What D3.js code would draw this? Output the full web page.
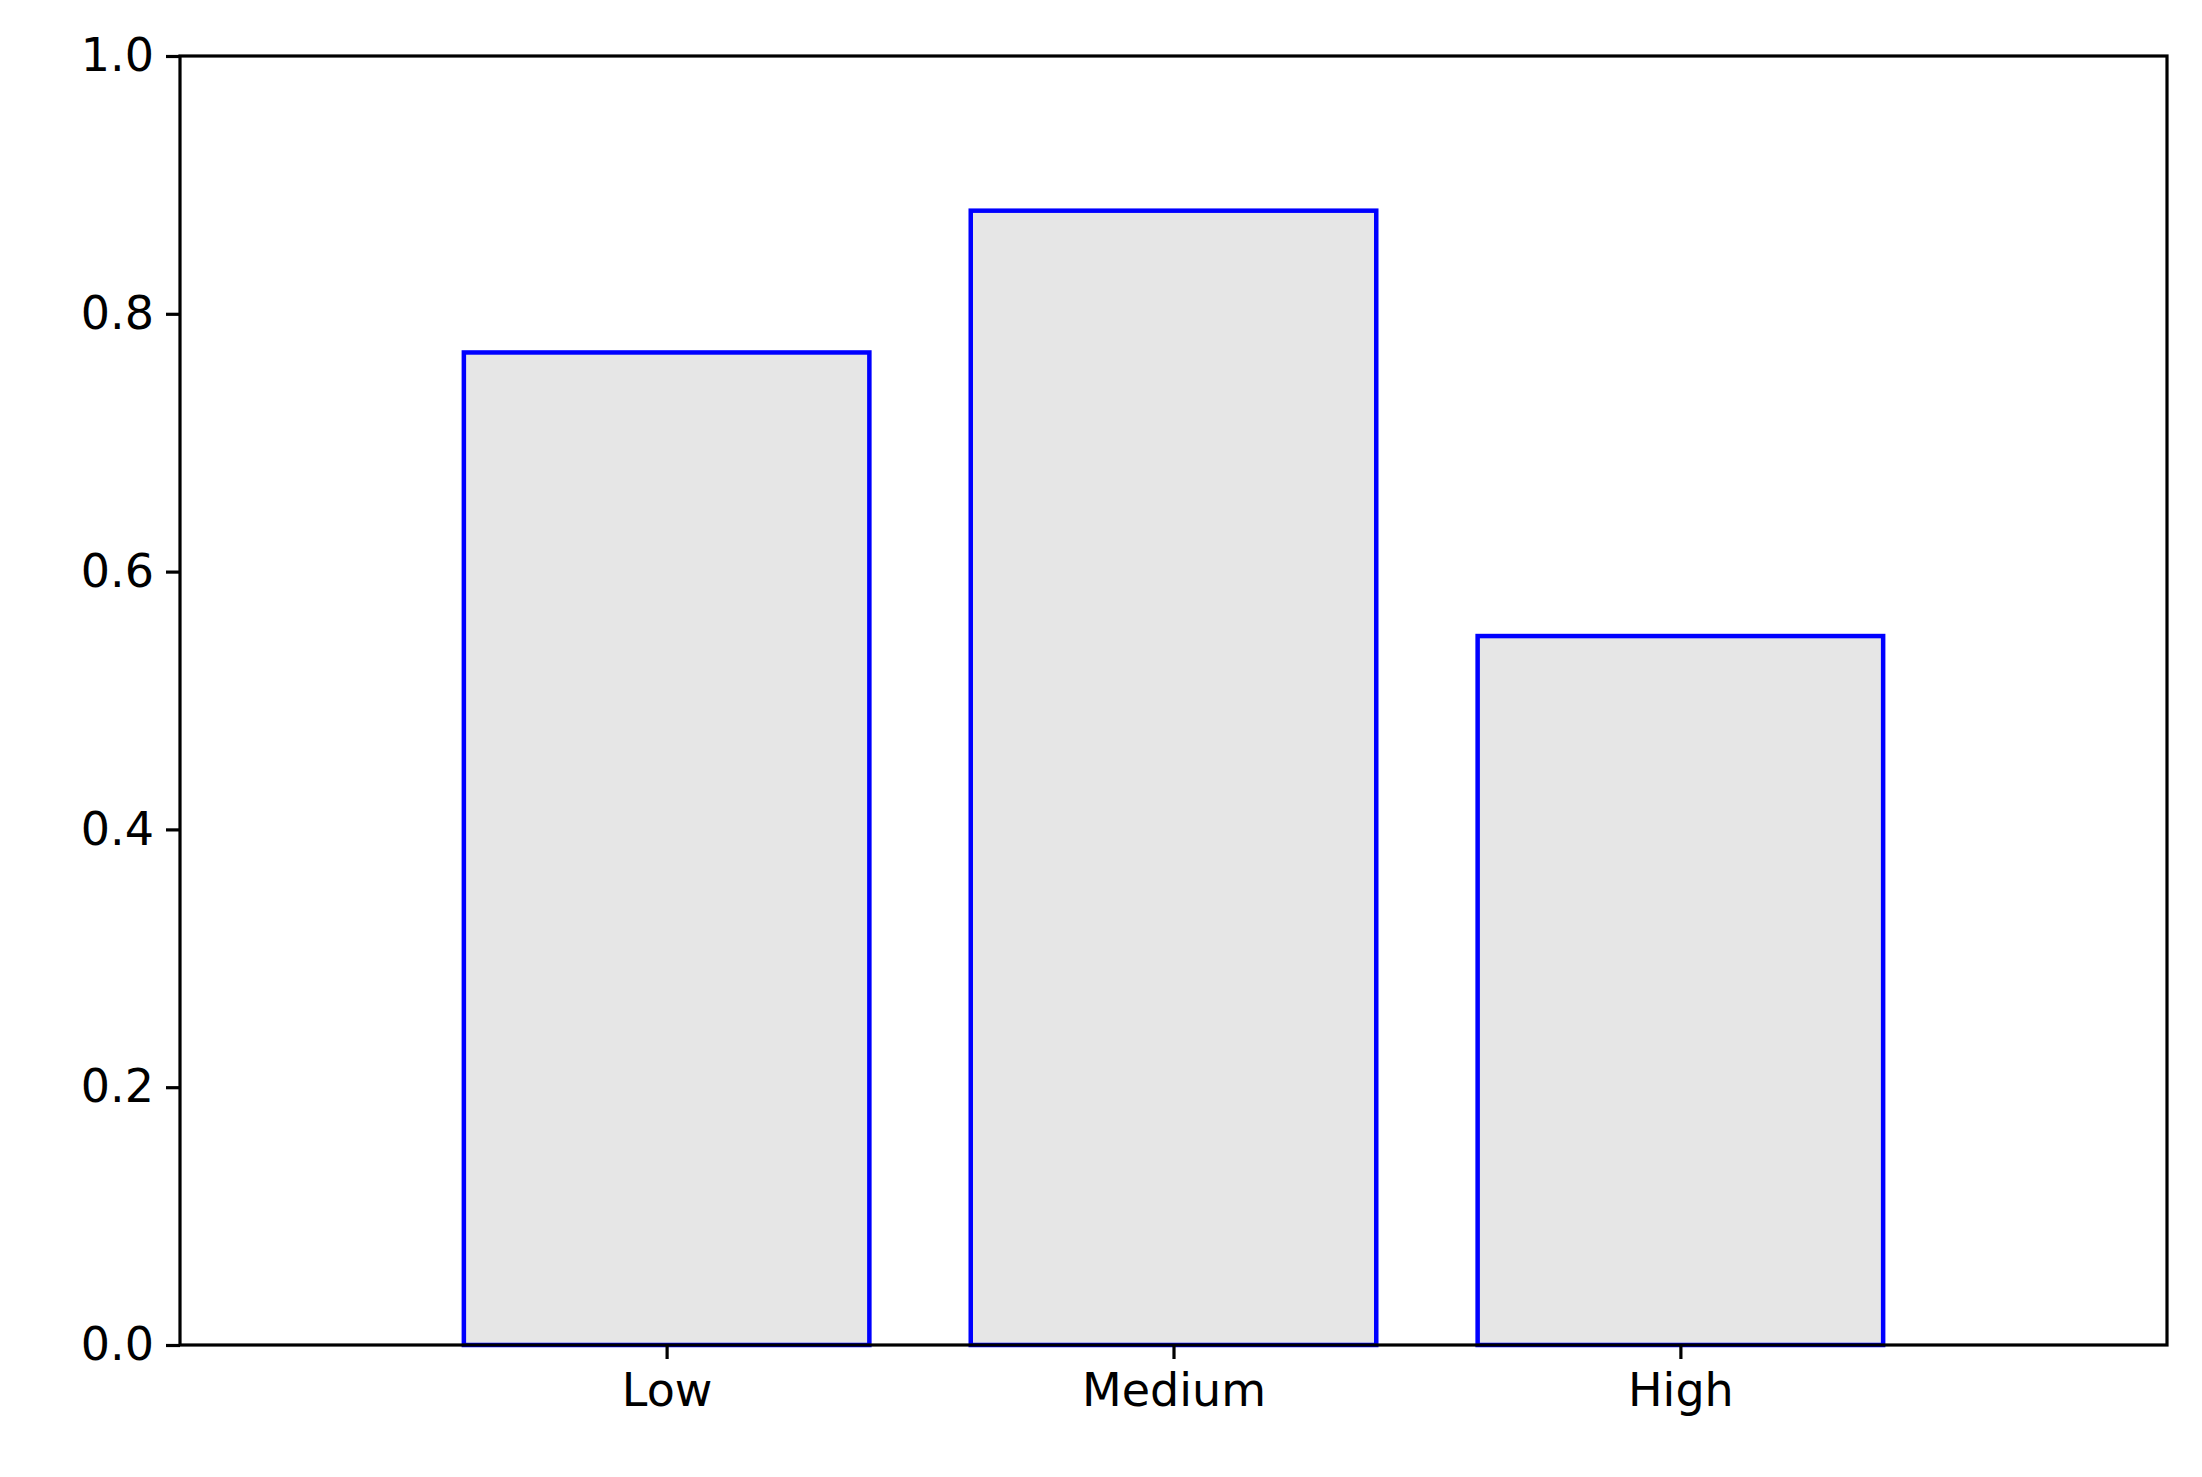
<!DOCTYPE html>
<html><head><meta charset="utf-8">
<script src="https://cdn.jsdelivr.net/npm/d3@7"></script>
<style>body{margin:0;background:#fff}text{font-family:"DejaVu Sans",sans-serif}</style>
</head><body>
<svg id="c" width="2202" height="1477"></svg>
<script>
const categories = ["Low", "Medium", "High"];
const values = [0.77, 0.88, 0.55];
const yTicks = [0, 0.2, 0.4, 0.6, 0.8, 1.0];

const svg = d3.select("#c");
const L = 180, R = 2167, T = 56, B = 1345;
const x = d3.scaleLinear().domain([-0.96, 2.96]).range([L, R]);
const y = d3.scaleLinear().domain([0, 1]).range([B, T]);
const bw = x(0.8) - x(0);

svg.selectAll("rect.bar").data(values).enter().append("rect")
  .attr("x", (d, i) => x(i) - bw / 2).attr("width", bw)
  .attr("y", d => y(d)).attr("height", d => y(0) - y(d))
  .attr("fill", "#e6e6e6").attr("stroke", "#0000ff").attr("stroke-width", 4.5);

const fs = 46;
const ya = svg.append("g").attr("transform", `translate(${L},0)`)
  .call(d3.axisLeft(y).tickValues(yTicks).tickFormat(d3.format(".1f")).tickSize(14).tickPadding(12));
const xa = svg.append("g").attr("transform", `translate(0,${B})`)
  .call(d3.axisBottom(x).tickValues([0, 1, 2]).tickFormat(i => categories[i]).tickSize(14).tickPadding(14));
[ya, xa].forEach(a => {
  a.select(".domain").remove();
  a.selectAll("line").attr("stroke", "#000").attr("stroke-width", 3.2);
  a.selectAll("text").attr("font-size", fs).attr("fill", "#000").attr("font-family", "DejaVu Sans");
});
svg.append("rect").attr("x", L).attr("y", T).attr("width", R - L).attr("height", B - T)
  .attr("fill", "none").attr("stroke", "#000").attr("stroke-width", 3.2);
</script></body></html>
